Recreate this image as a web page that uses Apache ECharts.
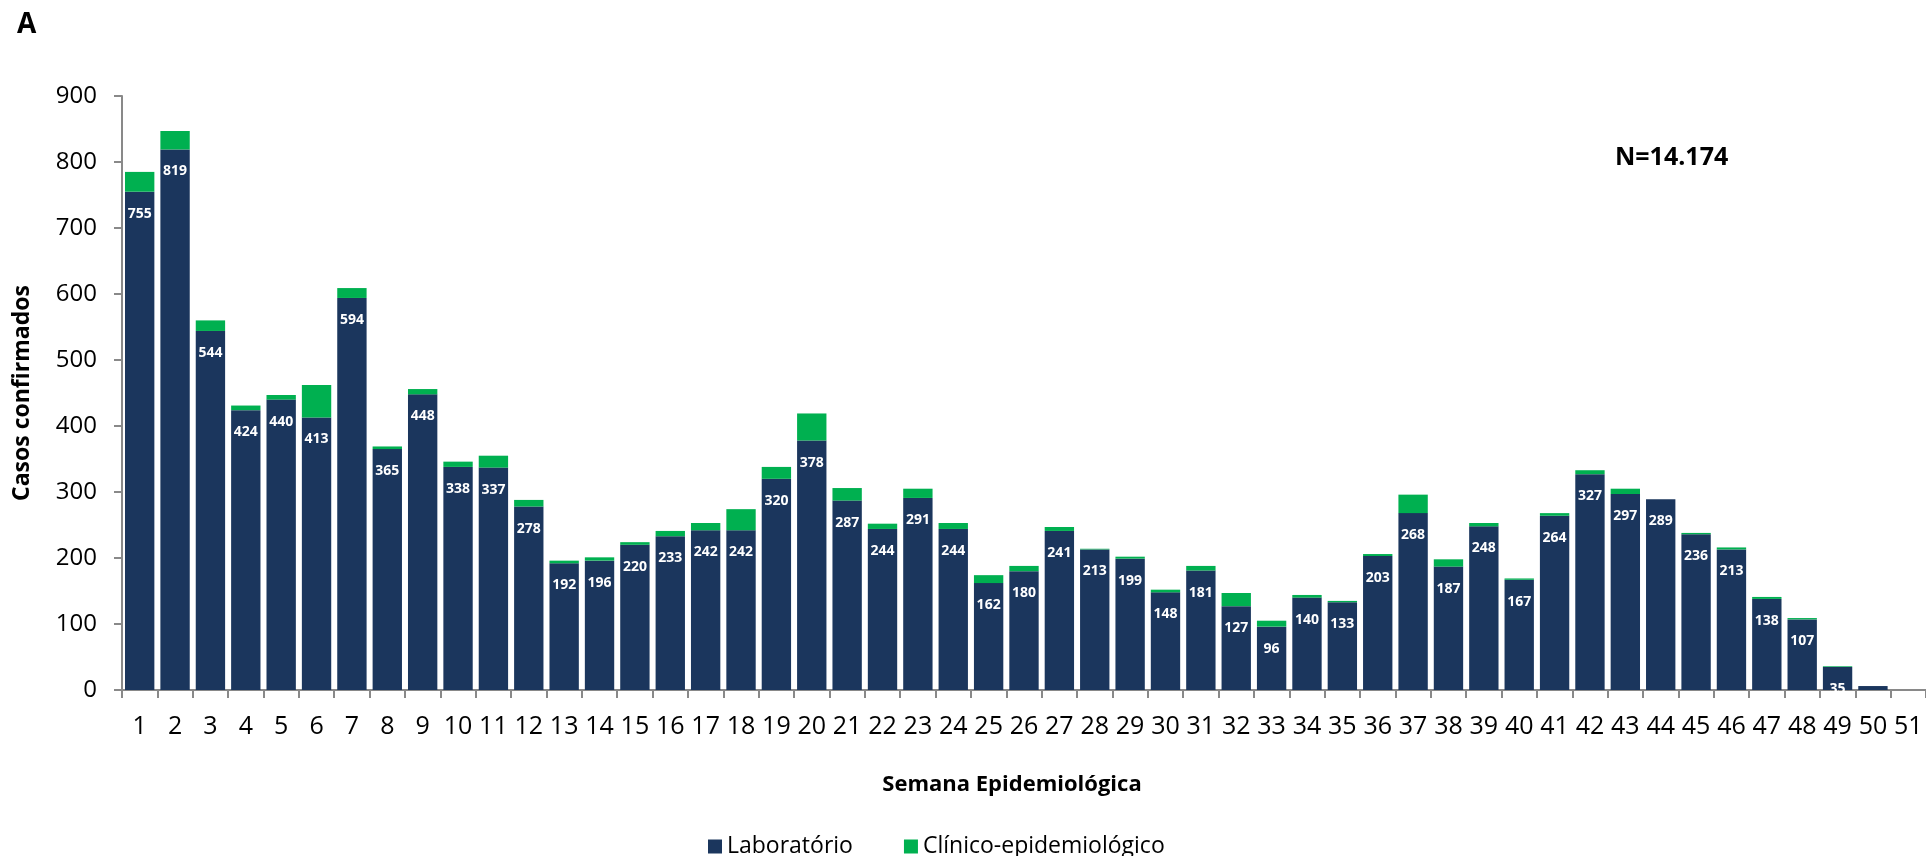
<!DOCTYPE html>
<html>
<head>
<meta charset="utf-8">
<script src="https://cdn.jsdelivr.net/npm/echarts@6/dist/echarts.min.js"></script>
<style>
  html, body { margin: 0; padding: 0; background: #fff; }
  #chart { width: 1926px; height: 856px; }
</style>
</head>
<body>
<div id="chart"></div>
<script>
// semanas epidemiologicas 1..51
var semanas = [];
for (var i = 1; i <= 51; i++) semanas.push(String(i));

var laboratorio = [755, 819, 544, 424, 440, 413, 594, 365, 448, 338, 337, 278, 192, 196, 220, 233, 242, 242, 320, 378,
    287, 244, 291, 244, 162, 180, 241, 213, 199, 148, 181, 127, 96, 140, 133, 203, 268, 187, 248, 167,
    264, 327, 297, 289, 236, 213, 138, 107, 35, 6, 0];
var clinico = [30, 28, 16, 7, 7, 49, 15, 4, 8, 8, 18, 10, 4, 5, 4, 8, 11, 32, 18, 41,
    19, 8, 14, 9, 12, 8, 6, 1, 3, 4, 7, 20, 9, 4, 2, 3, 28, 11, 5, 2,
    4, 6, 8, 0, 2, 3, 3, 2, 1, 0, 0];
var yTicks = [0, 900, 100]; // min, max, intervalo

var fonte = "'Open Sans', 'Noto Sans', sans-serif";
var cinza = '#898989';

var option = {
    animation: false,
    textStyle: { fontFamily: fonte },
    title: [
        { text: 'A', left: 12, top: 6,
          textStyle: { fontSize: 28, fontWeight: 'bold', color: '#000', fontFamily: fonte } },
        { text: 'N=14.174', left: 1610, top: 140,
          textStyle: { fontSize: 25, fontWeight: 'bold', color: '#000', fontFamily: fonte } }
    ],
    legend: {
        data: ['Laboratório', 'Clínico-epidemiológico'],
        left: 703, top: 830,
        icon: 'rect', itemWidth: 14, itemHeight: 14, itemGap: 51,
        textStyle: { fontSize: 23, color: '#000', fontFamily: fonte }
    },
    grid: { left: 122, top: 96, width: 1806, height: 594, containLabel: false },
    xAxis: {
        type: 'category',
        data: semanas,
        name: 'Semana Epidemiológica',
        nameLocation: 'middle',
        nameGap: 84,
        nameTextStyle: { fontSize: 22, fontWeight: 'bold', color: '#000', padding: [0, 24, 0, 0] },
        axisLine: { lineStyle: { color: cinza, width: 2 } },
        axisTick: { show: true, length: 8, lineStyle: { color: cinza, width: 2 } },
        axisLabel: { interval: 0, fontSize: 25, color: '#000', margin: 24 },
        splitLine: { show: false }
    },
    yAxis: {
        type: 'value',
        min: yTicks[0], max: yTicks[1], interval: yTicks[2],
        name: 'Casos confirmados',
        nameLocation: 'middle',
        nameGap: 88,
        nameTextStyle: { fontSize: 23, fontWeight: 'bold', color: '#000' },
        axisLine: { show: true, lineStyle: { color: cinza, width: 2 } },
        axisTick: { show: true, length: 8, lineStyle: { color: cinza, width: 2 } },
        axisLabel: { fontSize: 24, color: '#000', margin: 25 },
        splitLine: { show: false }
    },
    series: [
        {
            name: 'Laboratório',
            type: 'bar',
            stack: 'total',
            barCategoryGap: '17%',
            data: laboratorio,
            itemStyle: { color: '#1B365D' },
            label: {
                show: true,
                position: 'insideTop',
                distance: 15,
                color: '#fff',
                fontWeight: 'bold',
                fontSize: 14,
                formatter: function (p) { return p.value >= 10 ? p.value : ''; }
            }
        },
        {
            name: 'Clínico-epidemiológico',
            type: 'bar',
            stack: 'total',
            data: clinico,
            itemStyle: { color: '#00B050' }
        }
    ]
};

var chart = echarts.init(document.getElementById('chart'));
chart.setOption(option);
</script>
</body>
</html>
